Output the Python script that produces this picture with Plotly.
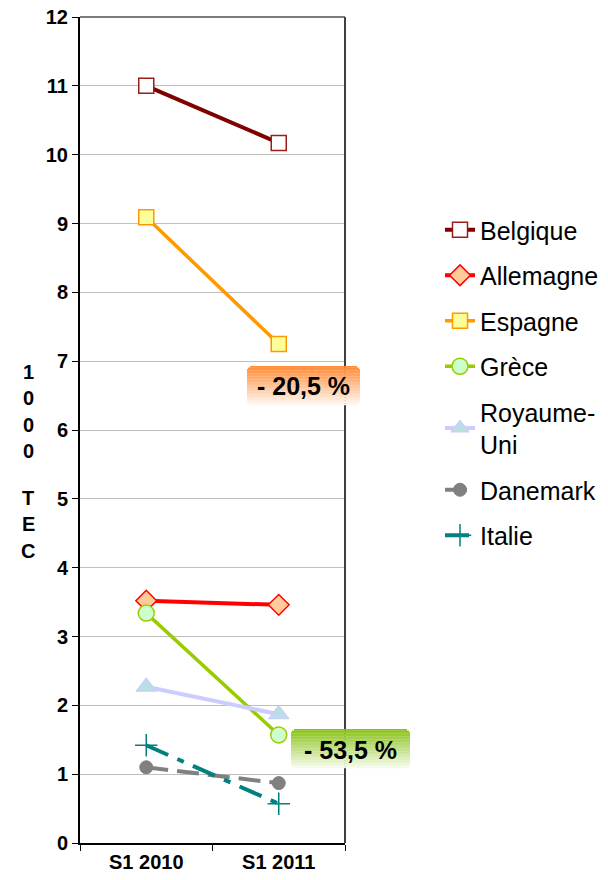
import plotly.graph_objects as go

# ---------------- data ----------------
periods = ["S1 2010", "S1 2011"]
countries = ["Belgique", "Allemagne", "Espagne", "Grèce", "Royaume-Uni", "Danemark", "Italie"]
legend_names = ["Belgique", "Allemagne", "Espagne", "Grèce", "Royaume-<br>Uni", "Danemark", "Italie"]
belgique = [11.0, 10.17]
allemagne = [3.52, 3.46]
espagne = [9.09, 7.25]
grece = [3.34, 1.57]
royaume_uni = [2.27, 1.87]
danemark = [1.10, 0.87]
italie = [1.42, 0.57]
series = [belgique, allemagne, espagne, grece, royaume_uni, danemark, italie]
y_ticks = list(range(0, 13))
y_title = "1000 TEC"
labels = ["- 20,5 %", "- 53,5 %"]

# ---------------- styles ----------------
FONT = "Liberation Sans, Arial, sans-serif"
styles = [
    dict(line=dict(color="#800000", width=4), marker=dict(symbol="square", size=15, color="#FFFFFF", line=dict(color="#9B1C1C", width=1.5))),
    dict(line=dict(color="#FF0000", width=4), marker=dict(symbol="diamond", size=16, color="#FFCC99", line=dict(color="#FF0000", width=1.5))),
    dict(line=dict(color="#FF9900", width=3.5), marker=dict(symbol="square", size=15, color="#FFFF99", line=dict(color="#FF9900", width=1.5))),
    dict(line=dict(color="#99CC00", width=3.5), marker=dict(symbol="circle", size=16, color="#CCFFCC", line=dict(color="#99CC00", width=1.5))),
    dict(line=dict(color="#CCCCFF", width=4), marker=dict(symbol="triangle-up", size=18, color="#BBDDE6", line=dict(color="#CCCCFF", width=1))),
    dict(line=dict(color="#808080", width=4, dash="22px,9px"), marker=dict(symbol="circle", size=13, color="#808080", line=dict(color="#808080", width=1))),
    dict(line=dict(color="#008080", width=4, dash="24px,10px,7px,10px"), marker=dict(symbol="cross-thin", size=16, color="#008080", line=dict(color="#008080", width=1.5))),
]

fig = go.Figure()
for name, lname, vals, st in zip(countries, legend_names, series, styles):
    fig.add_trace(go.Scatter(
        x=periods, y=vals, mode="lines+markers", name=lname,
        legendgroup=name, line=st["line"], marker=st["marker"],
        hovertemplate=name + ": %{y}<extra></extra>",
    ))

# ---------------- layout ----------------
W, H = 608, 880
L, T = 80, 17
R, B = W - 345, H - 843
pw, ph = W - L - R, H - T - B

def px_x(x):
    return (x - L) / pw

def px_y(y):
    return (H - B - y) / ph

tickfont = dict(size=20, family=FONT, color="black", weight="bold")

fig.update_layout(
    width=W, height=H,
    margin=dict(l=L, r=R, t=T, b=B, autoexpand=False),
    paper_bgcolor="white", plot_bgcolor="white",
    font=dict(family=FONT, color="black"),
    showlegend=True,
    legend=dict(
        x=px_x(440), xanchor="left", y=px_y(207), yanchor="top",
        font=dict(size=25, family=FONT, color="black"),
        tracegroupgap=10, itemwidth=30, traceorder="grouped",
        bgcolor="rgba(0,0,0,0)",
    ),
    xaxis=dict(
        type="category", categoryorder="array", categoryarray=periods,
        range=[-0.5, 1.5], tickson="boundaries", ticks="outside", ticklen=6,
        tickcolor="black", showline=True, linecolor="black", linewidth=2,
        showgrid=False, zeroline=False, tickfont=tickfont,
        ticklabeloverflow="allow",
    ),
    yaxis=dict(
        range=[0, 12], tickvals=y_ticks, ticks="outside", ticklen=6,
        tickcolor="black", showline=True, linecolor="black", linewidth=2,
        showgrid=True, gridcolor="#BEBEBE", gridwidth=1.2, zeroline=False,
        tickfont=tickfont, ticklabeloverflow="allow",
    ),
)

# right border of plot area and top line
fig.add_shape(type="line", xref="paper", yref="paper", x0=1, x1=1, y0=0, y1=1,
              line=dict(color="#404040", width=2), layer="above")
fig.add_shape(type="line", xref="paper", yref="paper", x0=0, x1=1, y0=1, y1=1,
              line=dict(color="#505050", width=1.5), layer="above")

# y axis title as stacked letters
y_positions = [372, 398, 425, 451, None, 498, 524, 551]
for ch, yp in zip(y_title, y_positions):
    if ch == " " or yp is None:
        continue
    fig.add_annotation(x=px_x(28), y=px_y(yp), xref="paper", yref="paper",
                       text="<b>" + ch + "</b>", showarrow=False,
                       font=dict(size=20, family=FONT, color="black"),
                       xanchor="center", yanchor="middle")

# gradient label boxes
def gradient_box(x0, x1, y0, y1, c_top, c_bot, n=26):
    for i in range(n):
        t = i / (n - 1)
        col = tuple(int(round(a + (b - a) * t)) for a, b in zip(c_top, c_bot))
        ya = y0 + (y1 - y0) * i / n
        yb = y0 + (y1 - y0) * (i + 1) / n
        inset = 0
        if i == 0 or i == n - 1:
            inset = 3
        elif i == 1 or i == n - 2:
            inset = 1
        fig.add_shape(type="rect", xref="paper", yref="paper",
                      x0=px_x(x0 + inset), x1=px_x(x1 - inset), y0=px_y(ya), y1=px_y(yb + 0.3),
                      line=dict(width=0), fillcolor="rgb(%d,%d,%d)" % col, layer="above")

boxes = [
    (247, 360, 366, 405, (255, 140, 55), (255, 246, 240)),
    (291, 410, 729, 768, (138, 194, 28), (246, 251, 234)),
]
for (x0, x1, y0, y1, ct, cb), txt in zip(boxes, labels):
    gradient_box(x0, x1, y0, y1, ct, cb)
    fig.add_annotation(x=px_x((x0 + x1) / 2), y=px_y((y0 + y1) / 2 + 1),
                       xref="paper", yref="paper", text="<b>" + txt + "</b>",
                       showarrow=False, font=dict(size=25, family=FONT, color="black"),
                       xanchor="center", yanchor="middle")

fig.write_html("out.html",
               config={"displayModeBar": False},
               post_script="document.body.style.margin='0';document.body.style.overflow='hidden';")
